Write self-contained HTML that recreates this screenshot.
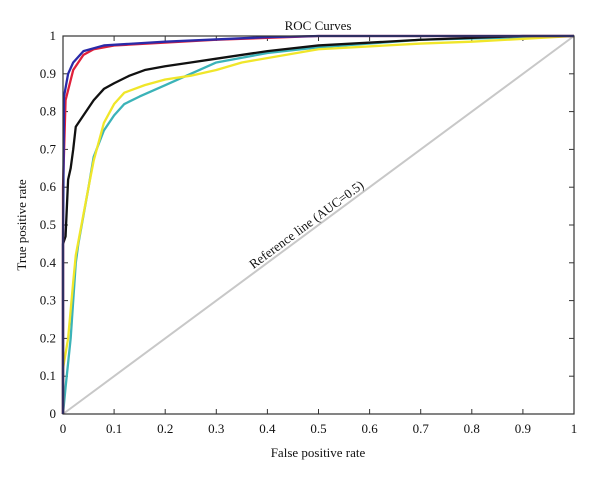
<!DOCTYPE html>
<html><head><meta charset="utf-8"><style>
body{margin:0;background:#fff;}
svg text{font-family:"Liberation Serif",serif;fill:#111;}
</style></head><body>
<svg width="600" height="475" xmlns="http://www.w3.org/2000/svg">
<g id="ticks"></g>
<line x1="63" y1="414" x2="574" y2="36" stroke="#c8c8c8" stroke-width="2"/>
<text transform="translate(309,228) rotate(-36.5)" text-anchor="middle" font-size="13">Reference line (AUC=0.5)</text>
<g id="series"></g>
<rect x="63" y="36" width="511" height="378" fill="none" stroke="#333" stroke-width="1.2"/>
<text x="318" y="30" text-anchor="middle" font-size="13">ROC Curves</text>
<text x="318" y="457" text-anchor="middle" font-size="13">False positive rate</text>
<text transform="translate(26,225) rotate(-90)" text-anchor="middle" font-size="13">True positive rate</text>
</svg>
<script>
const tickValues=[0,0.1,0.2,0.3,0.4,0.5,0.6,0.7,0.8,0.9,1];
const tickLabels=["0","0.1","0.2","0.3","0.4","0.5","0.6","0.7","0.8","0.9","1"];
const blueX=[0,0,0,0.002,0.01,0.02,0.04,0.08,0.2,0.4,0.5,1];
const blueY=[0,0.12,0.45,0.84,0.90,0.93,0.96,0.975,0.985,0.997,1,1];
const redX=[0,0,0.005,0.02,0.04,0.06,0.1,0.3,0.5,1];
const redY=[0,0.6,0.83,0.91,0.95,0.965,0.975,0.99,1,1];
const blackX=[0,0,0.005,0.01,0.015,0.02,0.025,0.04,0.06,0.08,0.1,0.13,0.16,0.2,0.25,0.3,0.4,0.5,0.7,0.9,1];
const blackY=[0,0.45,0.47,0.62,0.65,0.70,0.76,0.79,0.83,0.86,0.875,0.895,0.91,0.92,0.93,0.94,0.96,0.975,0.99,1,1];
const cyanX=[0,0.005,0.015,0.02,0.025,0.03,0.05,0.06,0.08,0.1,0.12,0.15,0.2,0.25,0.3,0.4,0.5,0.7,1];
const cyanY=[0,0.07,0.2,0.3,0.4,0.45,0.6,0.68,0.75,0.79,0.82,0.84,0.87,0.9,0.93,0.955,0.97,0.99,1];
const yellowX=[0,0,0.01,0.02,0.025,0.05,0.06,0.08,0.1,0.12,0.16,0.2,0.25,0.3,0.35,0.5,0.7,0.8,1];
const yellowY=[0,0.12,0.2,0.35,0.42,0.6,0.67,0.77,0.82,0.85,0.87,0.885,0.895,0.91,0.93,0.965,0.98,0.985,1];
const X=v=>63+v*511, Y=v=>414-v*378;
const NS="http://www.w3.org/2000/svg";
const tg=document.getElementById('ticks');
tickValues.forEach((v,i)=>{
  const mk=(tag,attrs)=>{const e=document.createElementNS(NS,tag);for(const k in attrs)e.setAttribute(k,attrs[k]);tg.appendChild(e);return e;};
  let t=mk('line',{x1:X(v),x2:X(v),y1:414,y2:409,stroke:'#333'});
  
  
  let t2=mk('line',{x1:X(v),x2:X(v),y1:36,y2:41,stroke:'#333'});
  
  
  let t3=mk('line',{x1:63,x2:68,y1:Y(v),y2:Y(v),stroke:'#333'});
  
  
  let t4=mk('line',{x1:574,x2:569,y1:Y(v),y2:Y(v),stroke:'#333'});
  
  
  let lx=mk('text',{x:X(v),y:433,'text-anchor':'middle','font-size':'13'});
  lx.textContent=tickLabels[i];
  
  
  let ly=mk('text',{x:56,y:Y(v)+4,'text-anchor':'end','font-size':'13'});
  ly.textContent=tickLabels[i];
  
  
});
const sg=document.getElementById('series');
function draw(xs,ys,color,name){
  const p=document.createElementNS(NS,'polyline');
  p.setAttribute('points',xs.map((x,i)=>X(x)+','+Y(ys[i])).join(' '));
  p.setAttribute('fill','none');p.setAttribute('stroke',color);p.setAttribute('stroke-width','2.3');
  p.setAttribute('stroke-linejoin','round');
  
  
  sg.appendChild(p);
}
draw(cyanX,cyanY,'#3bb3b8','roc-cyan');
draw(yellowX,yellowY,'#f0e62a','roc-yellow');
draw(blackX,blackY,'#111','roc-black');
draw(redX,redY,'#e0203a','roc-red');
draw(blueX,blueY,'#2a2aa8','roc-blue');
</script>
</body></html>
